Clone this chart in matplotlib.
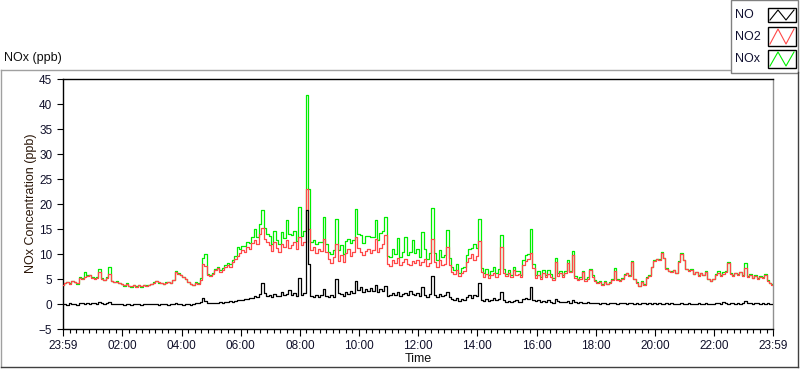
import numpy as np
import matplotlib
matplotlib.use("Agg")
import matplotlib.pyplot as plt
from matplotlib.lines import Line2D
from matplotlib.patches import Rectangle

plt.rcParams['font.family'] = ['Liberation Sans', 'DejaVu Sans']

# 5-minute samples from 23:59 (t=0) to 23:59 next day (t=24 h)
no2 = [
    3.8, 4.2, 4.5, 4.1, 4.6, 4.4, 4.2, 5.2, 5.0, 5.5, 5.6, 5.9,
    5.2, 5.0, 5.3, 6.4, 5.0, 4.8, 5.2, 6.0, 4.6, 4.4, 4.5, 4.2,
    4.0, 3.8, 4.1, 3.7, 3.6, 3.9, 3.5, 3.8, 3.6, 3.9, 3.7, 3.8,
    4.0, 4.3, 4.6, 4.4, 4.2, 4.0, 4.3, 4.5, 4.2, 4.8, 6.4, 6.1,
    5.8, 5.5, 5.0, 4.4, 4.1, 3.9, 4.2, 4.0, 4.8, 8.0, 7.6, 5.8,
    5.7, 6.0, 6.8, 7.2, 6.5, 6.9, 7.4, 7.8, 7.5, 8.4, 9.0, 9.6,
    10.2, 10.8, 10.5, 11.4, 11.0, 12.2, 12.8, 12.0, 14.0, 15.2, 13.0, 12.4,
    11.8, 10.6, 12.5, 11.2, 10.4, 12.0, 11.5, 12.8, 11.3, 11.9, 12.4, 11.0,
    13.5, 11.8, 12.4, 23.0, 15.0, 10.8, 11.5, 10.2, 11.0, 10.6, 13.0, 10.5,
    9.0, 8.2, 9.5, 12.0, 8.6, 9.8, 8.4, 10.2, 11.0, 9.6, 10.5, 13.5,
    11.2, 10.4, 9.8, 10.6, 11.0, 10.2, 10.8, 13.0, 10.5, 11.2, 12.0, 13.8,
    8.0, 7.6, 8.8, 8.2, 9.2, 7.8, 8.5, 9.0, 8.1, 7.9, 8.6, 8.3,
    8.8, 7.9, 8.4, 9.1, 7.6, 8.2, 13.0, 8.4, 7.5, 8.9, 7.8, 8.0,
    11.5, 7.8, 6.4, 6.0, 6.8, 5.6, 6.2, 6.6, 8.4, 9.2, 10.0, 8.8,
    9.6, 12.6, 6.4, 5.5, 6.0, 5.2, 5.8, 6.3, 5.4, 6.0, 11.5, 6.2,
    5.6, 6.2, 5.4, 6.8, 5.9, 6.1, 5.5, 7.8, 8.6, 9.0, 10.3, 7.2,
    5.2, 5.9, 5.0, 6.2, 5.4, 6.0, 5.5, 4.9, 8.4, 5.7, 6.3, 5.4,
    6.2, 8.3, 6.4, 9.8, 5.2, 4.8, 5.0, 6.4, 4.7, 5.1, 6.8, 5.5,
    4.6, 4.2, 4.5, 3.9, 4.4, 4.0, 4.3, 4.8, 6.6, 4.9, 4.6, 5.0,
    5.8, 6.2, 5.6, 8.4, 5.0, 4.2, 3.6, 4.4, 3.8, 5.3, 5.6, 7.4,
    8.6, 9.0, 8.8, 10.2, 9.2, 7.0, 6.6, 6.4, 6.8, 6.3, 8.5, 10.0,
    8.8, 7.0, 6.6, 6.9, 6.0, 6.4, 5.6, 6.2, 5.8, 6.5, 5.0, 4.6,
    5.0, 5.8, 6.3, 5.7, 6.1, 6.4, 8.3, 6.0, 5.6, 6.2, 5.8, 6.4,
    5.6, 7.2, 5.4, 5.8, 5.2, 5.6, 5.0, 5.5, 5.3, 5.9, 4.6, 4.2,
    3.9,
]

no = [
    0.0, 0.1, -0.1, 0.2, 0.0, 0.1, -0.1, 0.2, 0.3, 0.1, 0.2, 0.0,
    0.2, 0.3, 0.1, 0.4, 0.2, 0.1, 0.3, 0.5, 0.1, 0.0, 0.1, 0.0,
    0.0, -0.1, 0.1, 0.0, -0.1, 0.0, 0.1, 0.0, -0.1, 0.0, 0.1, 0.0,
    0.0, 0.1, 0.0, -0.1, 0.1, 0.0, 0.1, -0.1, 0.0, 0.1, 0.2, 0.1,
    0.0, -0.1, 0.0, 0.1, -0.1, 0.0, 0.2, 0.3, 0.5, 1.2, 0.6, 0.3,
    0.2, 0.3, 0.2, 0.3, 0.4, 0.3, 0.5, 0.4, 0.6, 0.5, 0.7, 0.8,
    0.9, 0.8, 1.1, 1.0, 1.3, 1.2, 1.6, 1.5, 2.0, 4.2, 2.2, 1.6,
    1.8, 1.5, 2.1, 1.7, 1.6, 2.4, 1.8, 2.0, 2.8, 1.9, 2.2, 1.7,
    5.3, 1.9, 2.3, 18.9, 8.0, 1.6, 1.4, 1.9, 1.5, 1.8, 3.0, 1.6,
    1.5, 1.8, 1.4, 5.0, 2.2, 2.0, 1.7, 2.4, 2.1, 2.6, 2.3, 4.6,
    2.8, 3.4, 2.5, 3.0, 2.6, 3.2, 2.7, 3.8, 2.4, 3.0, 2.6, 3.7,
    1.6, 1.9, 2.2, 1.8, 2.4, 1.7, 2.0, 2.3, 1.8, 2.6, 2.0, 1.9,
    2.2, 1.6, 3.4, 1.9, 1.5, 2.1, 5.6, 1.8, 1.4, 2.0, 1.6, 1.9,
    2.4, 1.5, 1.0, 0.8, 1.2, 0.7, 1.0, 0.9, 1.5, 1.8, 1.3, 1.9,
    1.6, 4.2, 0.9, 0.7, 1.1, 0.6, 0.9, 1.2, 0.8, 1.0, 2.5, 0.8,
    0.5, 0.7, 0.4, 0.6, 0.8, 0.5, 0.4, 1.0, 1.3, 1.1, 3.4, 0.9,
    0.6, 0.8, 0.5, 0.7, 0.4, 0.9, 0.5, 0.3, 1.0, 0.6, 0.4, 0.5,
    0.4, 0.6, 0.3, 0.8, 0.4, 0.3, 0.5, 0.2, 0.3, 0.4, 0.2, 0.3,
    0.2, 0.3, 0.1, 0.2, 0.3, 0.1, 0.2, 0.3, 0.2, 0.1, 0.2, 0.3,
    0.2, 0.1, 0.3, 0.2, 0.1, 0.2, 0.1, 0.3, 0.2, 0.1, 0.2, 0.1,
    0.2, 0.1, 0.2, 0.1, 0.0, 0.2, 0.1, 0.2, 0.1, 0.0, 0.1, 0.2,
    0.1, 0.0, 0.2, 0.1, 0.0, 0.1, 0.2, 0.1, 0.0, 0.2, 0.1, 0.0,
    0.1, 0.2, 0.3, 0.1, 0.4, 0.2, 0.1, 0.2, 0.3, 0.1, 0.2, 0.1,
    0.2, 0.6, 0.3, 0.2, 0.1, 0.2, 0.3, 0.1, 0.2, 0.1, 0.2, 0.1,
    0.1,
]

nox = [
    3.8, 4.3, 4.4, 4.3, 4.6, 4.5, 4.1, 5.4, 5.3, 6.5, 5.8, 5.9,
    5.4, 5.3, 5.4, 7.1, 5.2, 4.9, 5.5, 7.4, 4.7, 4.4, 4.6, 4.2,
    4.0, 3.7, 4.2, 3.7, 3.5, 3.9, 3.6, 3.8, 3.5, 3.9, 3.8, 3.8,
    4.0, 4.4, 4.6, 4.3, 4.3, 4.0, 4.4, 4.4, 4.2, 4.9, 6.6, 6.2,
    5.8, 5.4, 5.0, 4.5, 4.0, 3.9, 4.4, 4.3, 5.3, 9.2, 10.0, 6.1,
    5.9, 6.3, 7.0, 7.5, 6.9, 7.2, 7.9, 8.2, 8.1, 8.9, 9.7, 11.5,
    11.1, 11.6, 11.6, 12.4, 12.3, 13.4, 15.0, 13.5, 16.0, 18.9, 15.2, 14.0,
    13.6, 12.1, 14.6, 12.9, 12.0, 14.4, 13.3, 16.8, 14.1, 13.8, 14.6, 12.7,
    19.5, 13.7, 14.7, 41.9, 23.0, 12.4, 12.9, 12.1, 12.5, 12.4, 17.5, 12.1,
    10.5, 10.0, 10.9, 17.0, 10.8, 11.8, 10.1, 12.6, 13.1, 12.2, 12.8, 19.0,
    14.0, 13.8, 12.3, 13.6, 13.6, 13.4, 13.5, 16.8, 12.9, 14.2, 14.6, 17.5,
    9.6, 9.5, 11.0, 10.0, 13.2, 9.5, 10.5, 13.4, 9.9, 10.5, 12.8, 10.2,
    11.0, 9.5, 14.5, 11.0, 9.1, 10.3, 19.3, 10.2, 8.9, 10.9, 9.4, 9.9,
    14.9, 9.3, 7.4, 6.8, 8.0, 6.3, 7.2, 7.5, 9.9, 11.0, 11.3, 12.0,
    11.2, 17.0, 7.3, 6.2, 7.1, 5.8, 6.7, 7.5, 6.2, 7.0, 13.9, 7.0,
    6.1, 6.9, 5.8, 7.4, 6.7, 6.6, 5.9, 8.8, 9.9, 10.1, 15.1, 8.1,
    5.8, 6.7, 5.5, 6.9, 5.8, 6.9, 6.0, 5.2, 9.3, 6.3, 6.7, 5.9,
    6.6, 8.9, 6.7, 10.6, 5.6, 5.1, 5.5, 6.6, 5.0, 5.5, 7.0, 5.8,
    4.8, 4.5, 4.6, 4.1, 4.7, 4.1, 4.5, 5.1, 7.3, 5.0, 4.8, 5.3,
    6.0, 6.3, 5.9, 8.6, 5.1, 4.4, 3.7, 4.7, 4.0, 5.4, 5.8, 7.5,
    8.8, 9.1, 9.0, 10.5, 9.2, 7.2, 6.7, 6.6, 6.9, 6.3, 8.6, 10.2,
    8.9, 7.0, 6.8, 7.0, 6.0, 6.5, 5.8, 6.3, 5.8, 6.7, 5.1, 4.6,
    5.1, 6.0, 6.6, 5.8, 6.5, 6.6, 8.4, 6.2, 5.9, 6.3, 6.0, 6.5,
    5.8, 8.3, 5.7, 6.0, 5.3, 5.8, 5.3, 5.6, 5.5, 6.0, 4.8, 4.3,
    4.0,
]

tick_labels = ["23:59", "02:00", "04:00", "06:00", "08:00", "10:00", "12:00",
               "14:00", "16:00", "18:00", "20:00", "22:00", "23:59"]
y_ticks = [-5, 0, 5, 10, 15, 20, 25, 30, 35, 40, 45]

W, H = 800, 369
fig = plt.figure(figsize=(W / 100, H / 100), dpi=100)
fig.patch.set_facecolor("white")

def fx(px):
    return px / W

def fy(py):
    return 1 - py / H

# outer frame
fig.add_artist(Line2D([fx(0.5), fx(730)], [fy(69.5), fy(69.5)], color="#a0a0a0", lw=1))
fig.add_artist(Line2D([fx(0.5), fx(0.5)], [fy(69.5), fy(366.5)], color="#a0a0a0", lw=1))
fig.add_artist(Line2D([fx(0.5), fx(797.5)], [fy(366.5), fy(366.5)], color="#404040", lw=1))
fig.add_artist(Line2D([fx(797.5), fx(797.5)], [fy(72), fy(366.5)], color="#404040", lw=1))

ax = fig.add_axes([fx(62.7), fy(329.3), fx(772.7) - fx(62.7), fy(79) - fy(329.3)])
t = np.arange(len(no2)) * 5 / 60.0

ax.plot(t, nox, color="#00ee00", lw=0.9, drawstyle="steps-mid", zorder=2)
ax.plot(t, no2, color="#ff4848", lw=0.9, drawstyle="steps-mid", zorder=3)
ax.plot(t, no, color="black", lw=0.9, drawstyle="steps-mid", zorder=4)

ax.set_xlim(0, 24)
ax.set_ylim(-5, 45)

major = [0] + [h + 1 / 60 for h in range(2, 24, 2)] + [24]
ax.set_xticks(major)
ax.set_xticklabels(tick_labels)
minor = []
for m in major[1:-1]:
    for k in range(-8, 9):
        p = m + k * 2 / 9
        if 0 < p < 24 and k != 0:
            minor.append(p)
ax.set_xticks(sorted(set(round(v, 4) for v in minor)), minor=True)
ax.set_yticks(y_ticks)

tick_color = "#10102a"
ax.tick_params(axis="both", which="major", labelsize=8.5, colors="black", labelcolor=tick_color,
               length=4, width=0.8, direction="out")
ax.tick_params(axis="x", which="major", length=5, pad=3)
ax.tick_params(axis="x", which="minor", length=3, width=0.8, color="black")

for s in ["left", "bottom", "top"]:
    ax.spines[s].set_color("black")
    ax.spines[s].set_linewidth(1)
ax.spines["right"].set_color("#909090")
ax.spines["right"].set_linewidth(1)

fig.text(fx(418), fy(359), "Time", ha="center", va="center", fontsize=9, color="#101010")
fig.text(fx(31), fy(203), "NOx Concentration (ppb)", rotation=90, ha="center", va="center",
         fontsize=9, color="#2a1608")
fig.text(fx(4), fy(58), "NOx (ppb)", ha="left", va="center", fontsize=9, color="#101010")

# legend
fig.add_artist(Rectangle((fx(730.5), fy(72.5)), fx(797.5) - fx(730.5), fy(0) - fy(72.5),
                         fill=False, edgecolor="#808080", lw=1))
names = ["NO", "NO2", "NOx"]
colors = ["black", "#ff4848", "#00ee00"]
rows = [(8, 22), (27, 46), (50, 68)]
for name, c, (y0, y1) in zip(names, colors, rows):
    fig.text(fx(735), fy((y0 + y1) / 2), name, ha="left", va="center", fontsize=9, color="#101030")
    fig.add_artist(Rectangle((fx(768), fy(y1)), fx(796) - fx(768), fy(y0) - fy(y1),
                             fill=True, facecolor="white", edgecolor="black", lw=1))
    xs = [fx(770), fx(778), fx(786), fx(794)]
    ys = [fy(y1 - 2), fy(y0 + 2), fy(y1 - 2), fy(y0 + 2)]
    fig.add_artist(Line2D(xs, ys, color=c, lw=0.8))

fig.savefig("out.png", dpi=100, facecolor="white")
